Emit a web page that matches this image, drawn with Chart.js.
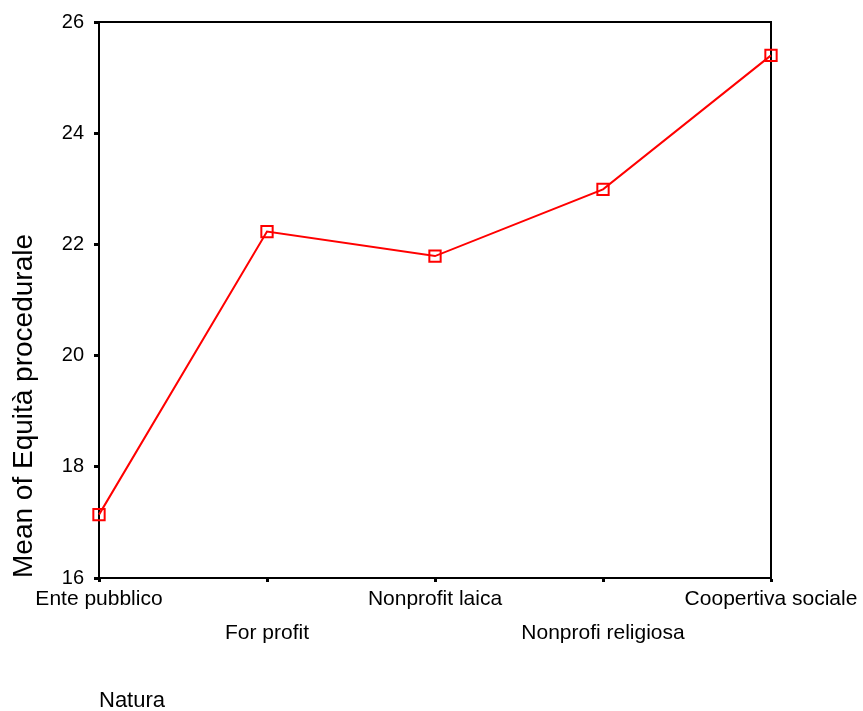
<!DOCTYPE html>
<html>
<head>
<meta charset="utf-8">
<script src="https://cdn.jsdelivr.net/npm/chart.js@4/dist/chart.umd.min.js"></script>
<style>
  html, body { margin: 0; padding: 0; background: #fff; }
  #wrap { width: 863px; height: 711px; position: relative; }
</style>
</head>
<body>
<div id="wrap"><canvas id="c"></canvas></div>
<script>
// Categories of "Natura" (staggered on two rows under the axis)
const categories = ['Ente pubblico', 'For profit', 'Nonprofit laica', 'Nonprofi religiosa', 'Coopertiva sociale'];
// Mean of Equità procedurale per category
const meanValues = [17.14, 22.23, 21.79, 22.99, 25.40];
// Y axis ticks
const yTicks = [16, 18, 20, 22, 24, 26];

const FONT = '"Liberation Sans", Arial, Helvetica, sans-serif';

// Alternate rows: even categories on the first line, odd ones on the second
const staggeredLabels = categories.map((c, i) => (i % 2 === 0 ? [c] : ['', c]));

// Frame along the top and right edges of the plot area
const framePlugin = {
  id: 'frame',
  beforeDatasetsDraw(chart) {
    const { ctx, chartArea: a } = chart;
    ctx.save();
    ctx.strokeStyle = '#000';
    ctx.lineWidth = 2;
    ctx.beginPath();
    ctx.moveTo(a.left, a.top);
    ctx.lineTo(a.right, a.top);
    ctx.lineTo(a.right, a.bottom);
    ctx.stroke();
    ctx.restore();
  }
};

new Chart(document.getElementById('c'), {
  type: 'line',
  data: {
    labels: staggeredLabels,
    datasets: [{
      data: meanValues,
      borderColor: '#ff0000',
      borderWidth: 2,
      tension: 0,
      fill: false,
      pointStyle: 'rect',
      pointRadius: 8,
      pointHoverRadius: 8,
      pointBorderWidth: 2,
      pointBorderColor: '#ff0000',
      pointBackgroundColor: 'rgba(0,0,0,0)',
      clip: false
    }]
  },
  options: {
    responsive: true,
    maintainAspectRatio: false,
    animation: false,
    layout: { padding: { left: 0, top: 21, right: 92, bottom: 0 } },
    plugins: {
      legend: { display: false },
      tooltip: { enabled: false }
    },
    scales: {
      x: {
        type: 'category',
        offset: false,
        grid: { drawOnChartArea: false, drawTicks: true, tickLength: 4, tickWidth: 3, color: '#000' },
        border: { display: true, color: '#000', width: 2 },
        ticks: {
          autoSkip: false,
          maxRotation: 0,
          minRotation: 0,
          padding: 0,
          color: '#000',
          font: { family: FONT, size: 21, lineHeight: 1.62 }
        },
        title: {
          display: true,
          text: 'Natura',
          align: 'start',
          color: '#000',
          font: { family: FONT, size: 22, lineHeight: 1 },
          padding: { top: 0, bottom: -1 }
        },
        afterFit(scale) { scale.height = 133; }
      },
      y: {
        min: 16,
        max: 26,
        afterBuildTicks(scale) { scale.ticks = yTicks.map(v => ({ value: v })); },
        grid: { drawOnChartArea: false, drawTicks: true, tickLength: 5, tickWidth: 3, color: '#000' },
        border: { display: true, color: '#000', width: 2 },
        ticks: {
          padding: 10,
          color: '#000',
          font: { family: FONT, size: 20 }
        },
        title: {
          display: true,
          text: 'Mean of Equità procedurale',
          align: 'start',
          color: '#000',
          font: { family: FONT, size: 28, lineHeight: 1.2 },
          padding: { top: 7, bottom: 0 }
        },
        afterFit(scale) { scale.width = 99; }
      }
    }
  },
  plugins: [framePlugin]
});
</script>
</body>
</html>
